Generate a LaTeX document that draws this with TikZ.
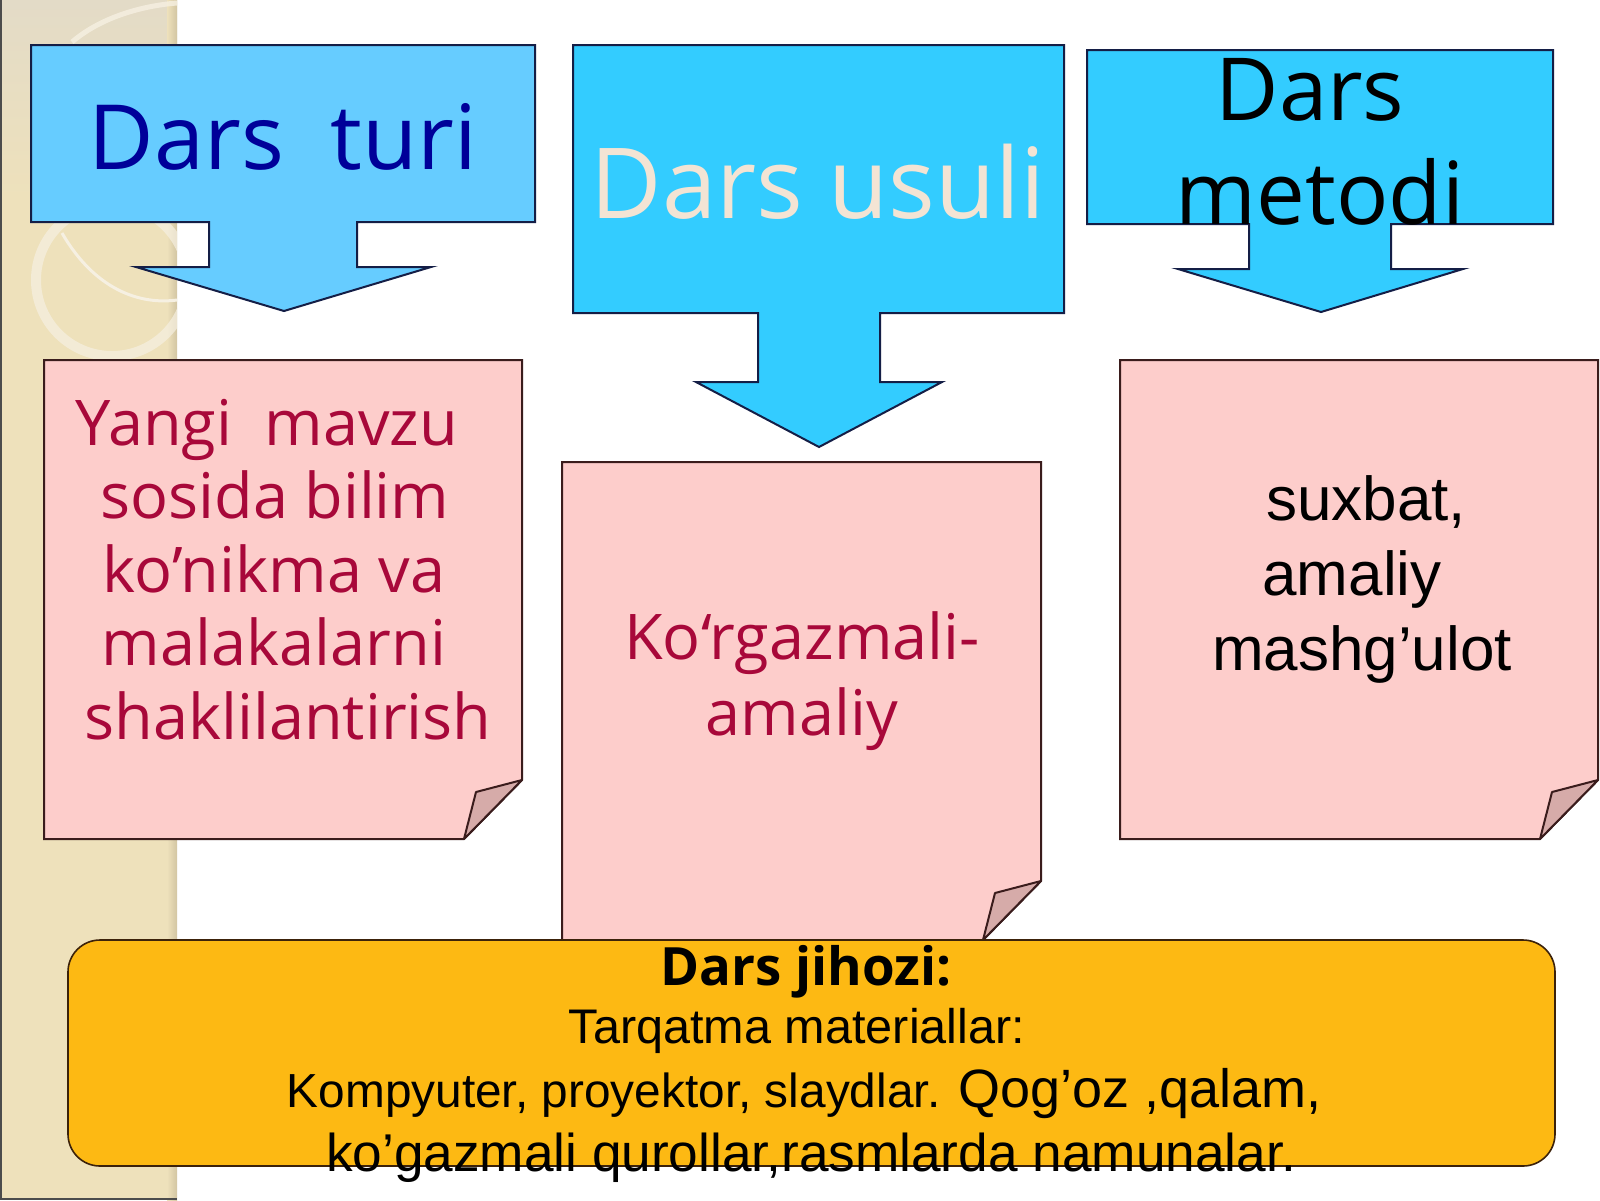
\documentclass[tikz,border=0pt]{standalone}
\usepackage{fontspec}
\setmainfont{Open Sans}
\newfontfamily\arialf{Liberation Sans}
\definecolor{stripbeige}{HTML}{EEE1BB}
\definecolor{striptop}{HTML}{E3DBC7}
\definecolor{stripedge}{HTML}{D2C5A2}
\definecolor{ringcol}{HTML}{F6F0E2}
\definecolor{lightblue}{HTML}{66CCFF}
\definecolor{cyanblue}{HTML}{33CCFF}
\definecolor{navyedge}{HTML}{141E46}
\definecolor{turiblue}{HTML}{000099}
\definecolor{usulitext}{HTML}{F3E4D4}
\definecolor{paperpink}{HTML}{FDCDCB}
\definecolor{flappink}{HTML}{D6ABA9}
\definecolor{paperedge}{HTML}{3A1C1C}
\definecolor{crimson}{HTML}{A8083A}
\definecolor{jihozorange}{HTML}{FDB913}
\definecolor{orangeedge}{HTML}{3C220A}
\tikzset{
  bluebox/.style={draw=navyedge, line width=1pt, line join=miter},
  paper/.style={draw=paperedge, line width=1pt, fill=paperpink},
  flapstyle/.style={draw=paperedge, line width=1pt, fill=flappink, line join=round},
  lbl/.style={inner sep=0pt, anchor=base},
  pinkfont/.style={text=crimson, font=\fontsize{31.5}{36}\selectfont},
  arialtext/.style={font=\arialf\fontsize{31}{36}\selectfont},
}
\newcommand\foldpaper[4]{%
  \path[paper] (#1,#2) -- (#3,#2) -- (#3,#4-59) -- (#3-58,#4) -- (#1,#4) -- cycle;
  \path[flapstyle] (#3,#4-59) -- (#3-46,#4-47) -- (#3-58,#4) -- cycle;
}
\begin{document}
\begin{tikzpicture}[x=0.5pt,y=-0.5pt]
\useasboundingbox (0,0) rectangle (1600,1200);
\fill[white] (0,0) rectangle (1600,1200);
% left decorative strip
\fill[stripbeige] (0,0) rectangle (177,1200);
\shade[top color=striptop, bottom color=stripbeige] (0,0) rectangle (177,200);
\shade[left color=stripbeige, right color=stripedge] (167,0) rectangle (177,1200);
\begin{scope}
  \clip (0,0) rectangle (177,1200);
  \draw[ringcol, line width=5pt, opacity=0.7] (112,280) circle (76);
  \draw[ringcol, line width=1.5pt] (62,233) .. controls (95,290) and (140,305) .. (177,300);
  \draw[ringcol, line width=2.5pt, opacity=0.8] (72,42) .. controls (100,18) and (140,6) .. (177,3);
\end{scope}
\draw[gray!60!black, line width=0.6pt] (1,0) -- (1,1199) -- (177,1199);
% blue boxes with arrows
\path[bluebox, fill=lightblue] (31,45) -- (535,45) -- (535,222) -- (357,222) -- (357,267) -- (431,267) -- (284,311) -- (136,267) -- (209,267) -- (209,222) -- (31,222) -- cycle;
\path[bluebox, fill=cyanblue] (573,45) -- (1064,45) -- (1064,313) -- (880,313) -- (880,382) -- (942,382) -- (819,447) -- (696,382) -- (758,382) -- (758,313) -- (573,313) -- cycle;
\path[bluebox, fill=cyanblue] (1087,50) -- (1553,50) -- (1553,224) -- (1391,224) -- (1391,269) -- (1463,269) -- (1321,312) -- (1178,269) -- (1249,269) -- (1249,224) -- (1087,224) -- cycle;
\node[lbl, text=turiblue, font=\fontsize{45}{50}\selectfont] (turi) at (283,169) {Dars\ \ turi};
\node[lbl, text=usulitext, font=\fontsize{49}{54}\selectfont] (usuli) at (818,218) {Dars usuli};
\node[lbl, font=\fontsize{43.5}{50}\selectfont] (dars3) at (1310,120) {Dars};
\node[lbl, font=\fontsize{43.5}{50}\selectfont] (metodi) at (1320,224) {metodi};
% folded papers
\foldpaper{44}{360}{522}{839}
\foldpaper{562}{462}{1041}{940}
\foldpaper{1120}{360}{1598}{839}
\node[lbl, pinkfont] (p1a) at (267,445) {Yangi\ \ mavzu};
\node[lbl, pinkfont] (p1b) at (275,518) {sosida bilim};
\node[lbl, pinkfont] (p1c) at (274,592) {ko’nikma va};
\node[lbl, pinkfont] (p1d) at (274,665) {malakalarni};
\node[lbl, pinkfont] (p1e) at (288,739) {shaklilantirish};
\node[lbl, pinkfont] (p2a) at (802,659) {Ko‘rgazmali-};
\node[lbl, pinkfont] (p2b) at (802,735) {amaliy};
\node[lbl, arialtext] (p3a) at (1366,520) {suxbat,};
\node[lbl, arialtext] (p3b) at (1352,595) {amaliy};
\node[lbl, arialtext] (p3c) at (1362,670) {mashg’ulot};
% equipment box
\node[draw=orangeedge, line width=0.8pt, fill=jihozorange, rounded corners=16pt,
      minimum width=743.5pt, minimum height=113pt, inner sep=0pt] (jihoz) at (811.5,1053) {};
\node[lbl, font=\bfseries\fontsize{26.4}{30}\selectfont] (j1) at (806,985) {Dars jihozi:};
\node[lbl, font=\arialf\fontsize{24.3}{28}\selectfont] (j2) at (797,1043) {Tarqatma materiallar:};
\node[lbl, font=\arialf\fontsize{23.9}{28}\selectfont] (j3) at (804,1107) {Kompyuter, proyektor, slaydlar. {\fontsize{27}{30}\selectfont Qog’oz ,qalam,}};
\node[lbl, font=\arialf\fontsize{26.6}{30}\selectfont] (j4) at (811,1171) {ko’gazmali qurollar,rasmlarda namunalar.};
\end{tikzpicture}
\end{document}
